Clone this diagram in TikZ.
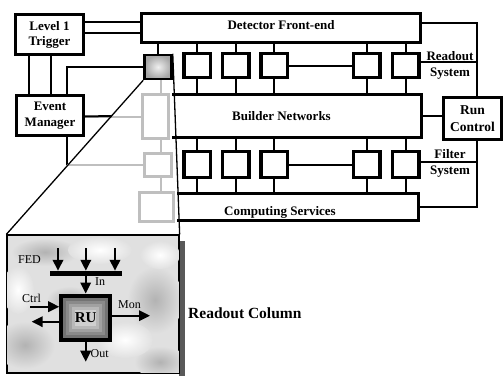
\documentclass[tikz,border=0pt]{standalone}
\usepackage{fontspec}
\setmainfont{Liberation Serif}
\usetikzlibrary{arrows.meta,calc}
\begin{document}
\begin{tikzpicture}[x=1pt,y=-1pt,
  bigbox/.style={draw, line width=3pt, fill=white, inner sep=0pt, align=center, font=\bfseries\fontsize{13}{15}\selectfont},
  openbox/.style={inner sep=0pt, align=center, font=\bfseries\fontsize{13}{15}\selectfont},
  boxline/.style={line width=3pt},
  unitbox/.style={draw, line width=3.5pt, fill=white, inner sep=0pt, minimum width=26.5pt},
  gbox/.style={draw=black!25, line width=3pt, fill=white, inner sep=0pt},
  conn/.style={line width=2pt},
  gconn/.style={line width=2pt, draw=black!25},
  lbl/.style={inner sep=0pt, font=\bfseries\fontsize{13}{15}\selectfont},
  ilbl/.style={inner sep=0pt, font=\fontsize{12}{14}\selectfont},
  iarrow/.style={line width=2pt, -{Triangle[length=11pt,width=10.5pt]}},
  zoomline/.style={line width=1.3pt},
  blobd/.style={inner color=black!30, outer color=black!12},
  blobl/.style={inner color=white, outer color=black!12}
]
\useasboundingbox (0,0) rectangle (503,375);

% helper coordinates
\coordinate (cutB) at (172,0);
\coordinate (cutC) at (177,0);
\coordinate (RCv) at (477,0);
\coordinate (ta) at (0,22);
\coordinate (tb) at (0,33);
\coordinate (tc) at (0,23);
\coordinate (la) at (29,0);
\coordinate (lb) at (51,0);
\coordinate (emx) at (67,0);
\coordinate (gx) at (161,0);
\coordinate (rsy) at (0,62);
\coordinate (fsy) at (0,162);

% main boxes
\node[bigbox, minimum width=68pt, minimum height=40pt] (L1T) at (49.5,34.5) {Level 1\\Trigger};
\node[bigbox, font=\bfseries\fontsize{13}{16}\selectfont, minimum width=67pt, minimum height=40pt] (EM) at (50,115.5) {Event\\Manager};
\node[bigbox, minimum width=279pt, minimum height=29pt, text height=9pt, text depth=6pt] (DFE) at (281,28) {Detector Front-end};
\node[openbox, minimum width=280pt, minimum height=43pt, text height=9pt, text depth=1pt] (BN) at (281.5,116) {Builder Networks};
\node[openbox, minimum width=277pt, minimum height=27pt, text height=17pt, text depth=1pt] (CS) at (280,207) {Computing Services};
\node[bigbox, font=\bfseries\fontsize{13.5}{16.5}\selectfont, minimum width=58pt, minimum height=42pt] (RC) at (472.5,118.5) {Run\\Control};

% readout and filter units
\foreach \i/\x in {1/197,2/235.5,3/274,4/366.5,5/405.5}{
  \node[unitbox, minimum height=24pt] (R\i) at (\x,65.5) {};
  \node[unitbox, minimum height=26pt] (F\i) at (\x,164.5) {};
}

% highlighted column
\node[draw, line width=2.5pt, inner sep=0pt, minimum width=27pt, minimum height=24pt, inner color=black!6, outer color=black!35] (G1) at (158,67) {};
\node[gbox, minimum width=26pt, minimum height=44pt] (G2) at (155.5,116.5) {};
\node[gbox, minimum width=27pt, minimum height=23pt] (G3) at (158,165) {};
\node[gbox, minimum width=34pt, minimum height=29pt] (G4) at (156.5,207) {};

% stubs
\foreach \i in {1,...,5}{
  \draw[conn] (R\i.north) -- (R\i.north |- DFE.south);
  \draw[conn] (R\i.south) -- (R\i.south |- BN.north);
  \draw[conn] (F\i.north) -- (F\i.north |- BN.south);
  \draw[conn] (F\i.south) -- (F\i.south |- CS.north);
}
\draw[conn] (R3.east) -- (R4.west);
\draw[conn] (F3.east) -- (F4.west);
\draw[conn] (G1.north) -- (G1.north |- DFE.south);
\draw[gconn] (G1.south -| gx) -- (G2.north -| gx);
\draw[gconn] (G2.south -| gx) -- (G3.north -| gx);
\draw[gconn] (G3.south -| gx) -- (G4.north -| gx);

% open borders of Builder Networks and Computing Services
\draw[boxline] (BN.north west -| cutB) -- (BN.north east) -- (BN.south east) -- (BN.south west -| cutB);
\draw[boxline] (CS.north west -| cutC) -- (CS.north east) -- (CS.south east) -- (CS.south west -| cutC);

% trigger / manager connections
\draw[conn] (L1T.east |- ta) -- (DFE.west |- ta);
\draw[conn] (L1T.east |- tb) -- (DFE.west |- tb);
\draw[conn] (L1T.south -| la) -- (EM.north -| la);
\draw[conn] (L1T.south -| lb) -- (EM.north -| lb);
\draw[conn] (EM.north -| emx) |- (G1.west);
\draw[gconn] (EM.east |- G2.west) -- (G2.west);
\coordinate (cross1) at (intersection of EM.east--G2.west and G1.south west--7,235);
\draw[conn] (EM.east |- G2.west) -- (cross1);
\draw[conn] (EM.south -| emx) -- (G3.west -| emx);
\draw[gconn] (G3.west -| emx) -- (G3.west);

% run control connections
\draw[conn] (DFE.east |- tc) -| (RC.north -| RCv);
\draw[conn] (R5.east |- rsy) -- (RCv |- rsy);
\draw[conn] (BN.east) -- (BN.east -| RC.west);
\draw[conn] (RC.south -| RCv) |- (CS.east);
\draw[conn] (F5.east |- fsy) -- (RCv |- fsy);

% side labels
\node[lbl, anchor=base] (rs1) at (450,60) {Readout};
\node[lbl, anchor=base] (rs2) at (450,76) {System};
\node[lbl, anchor=base] (fs1) at (450,158) {Filter};
\node[lbl, anchor=base] (fs2) at (450,174) {System};

% inset
\fill[black!65] (179,241) rectangle (184.5,378);
\node[draw, line width=1.3pt, fill=black!12, inner sep=0pt, minimum width=172pt, minimum height=138pt] (IN) at (93,304) {};
\begin{scope}
  \clip (IN.north west) rectangle (IN.south east);
  \shade[blobd] (45,252) ellipse [x radius=34pt, y radius=14pt];
  \shade[blobd] (25,345) ellipse [x radius=30pt, y radius=24pt];
  \shade[blobd] (155,300) ellipse [x radius=28pt, y radius=34pt];
  \shade[blobd] (160,362) ellipse [x radius=26pt, y radius=16pt];
  \shade[blobd] (70,300) ellipse [x radius=24pt, y radius=14pt];
  \shade[blobl] (100,250) ellipse [x radius=32pt, y radius=14pt];
  \shade[blobl] (125,340) ellipse [x radius=28pt, y radius=18pt];
  \shade[blobl] (18,290) ellipse [x radius=16pt, y radius=24pt];
  \shade[blobl] (160,255) ellipse [x radius=20pt, y radius=14pt];
\end{scope}
\draw[line width=1.3pt] (IN.north west) rectangle (IN.south east);

% zoom lines
\draw[zoomline] (G1.south west) -- (IN.north west);
\draw[zoomline] (G1.north east) -- (IN.north east);

% readout unit drawing
\node[fill=black, inner sep=0pt, minimum width=72pt, minimum height=4.7pt] (BAR) at (85.85,273.3) {};
\node[draw, line width=4pt, fill=black!55, inner sep=0pt, minimum width=49pt, minimum height=44pt] (RU) at (85.7,317.5) {};
\foreach \d/\c in {7/46,10/37,13/28,16/19}{
  \fill[black!\c] ($(RU.north west)+(\d,\d)$) rectangle ($(RU.south east)+(-\d,-\d)$);
}
\node[inner sep=0pt, font=\bfseries\fontsize{15}{18}\selectfont] (RUt) at (RU.center) {RU};

\foreach \x [count=\i] in {58,85.85,115}{
  \coordinate (fa\i) at (\x,248);
  \draw[iarrow] (fa\i) -- (fa\i |- BAR.north);
}
\draw[iarrow] (BAR.south -| RU.north) -- (RU.north);
\coordinate (ci) at (30,306.7);
\draw[iarrow] (ci) -- (ci -| RU.west);
\coordinate (co) at (31.7,321.7);
\draw[iarrow] (co -| RU.west) -- (co);
\coordinate (mo) at (150,315.7);
\draw[iarrow] (mo -| RU.east) -- (mo);
\coordinate (ou) at (85.7,361.7);
\draw[iarrow] (RU.south) -- (ou);

\node[ilbl, anchor=base west] (FEDt) at (18,263) {FED};
\node[ilbl, anchor=base west] (Int) at (95,285.5) {In};
\node[ilbl, anchor=base west] (Ctrlt) at (22,302) {Ctrl};
\node[ilbl, anchor=base west] (Mont) at (118,308) {Mon};
\node[ilbl, anchor=base west] (Outt) at (90.5,357) {Out};

\node[inner sep=0pt, font=\bfseries\fontsize{15.5}{18}\selectfont, anchor=base west] (RCol) at (188,318) {Readout Column};
\end{tikzpicture}
\end{document}
